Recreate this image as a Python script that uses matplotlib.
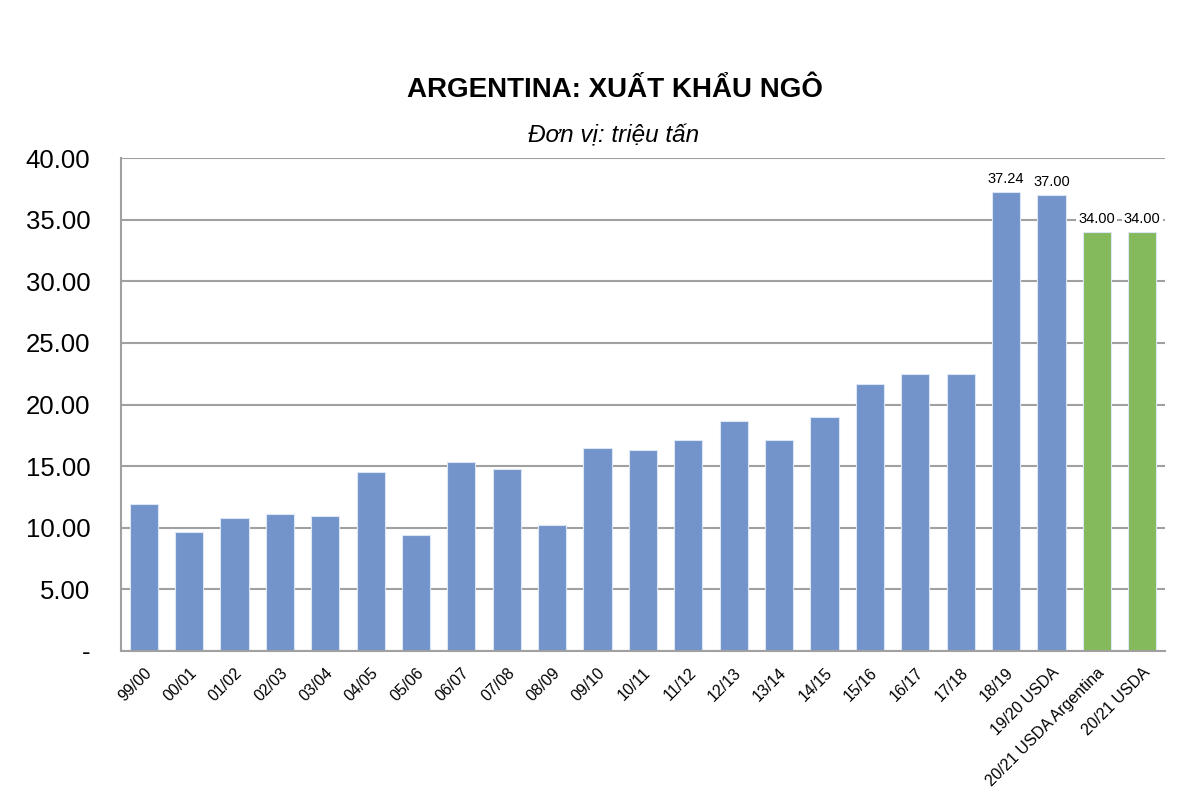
import matplotlib
matplotlib.use('Agg')
import matplotlib.pyplot as plt
import numpy as np
from matplotlib import rcParams

rcParams['font.family'] = ['Liberation Sans', 'DejaVu Sans']

# season labels and exports (million tonnes)
seasons = ['99/00', '00/01', '01/02', '02/03', '03/04', '04/05', '05/06', '06/07',
           '07/08', '08/09', '09/10', '10/11', '11/12', '12/13', '13/14', '14/15',
           '15/16', '16/17', '17/18', '18/19', '19/20 USDA',
           '20/21 USDA Argentina', '20/21 USDA']
exports = [11.91, 9.66, 10.83, 11.15, 10.93, 14.56, 9.45, 15.32,
           14.75, 10.26, 16.45, 16.32, 17.16, 18.67, 17.08, 18.95,
           21.65, 22.46, 22.46, 37.24, 37.00, 34.00, 34.00]
labelled = [19, 20, 21, 22]   # bars that carry a value label
forecast = [21, 22]           # green bars

blue = '#7394CB'
green = '#84BA5B'
colors = [green if i in forecast else blue for i in range(len(seasons))]

fig = plt.figure(figsize=(12, 8), dpi=100)
ax = fig.add_axes([0.1008, 0.18625, 0.87, 0.61625])

x = np.arange(len(seasons))
ax.bar(x, exports, width=0.62, color=colors, edgecolor='#DCE6F4', linewidth=0.8, zorder=2)

for i in labelled:
    ax.text(x[i], exports[i] + 0.5, '%.2f' % exports[i], ha='center', va='bottom',
            fontsize=10.5, zorder=3,
            bbox=dict(facecolor='white', edgecolor='none', pad=1.5))

ax.set_xlim(-0.5, len(seasons) - 0.5)
ax.set_ylim(0, 40)
yt = np.arange(0, 45, 5)
ax.set_yticks(yt)
ax.set_yticklabels(['-'] + ['%.2f' % v for v in yt[1:]], fontsize=18.5)
ax.set_xticks(x)
ax.set_xticklabels(seasons, rotation=45, ha='right', rotation_mode='anchor', fontsize=11.5)
ax.tick_params(axis='y', length=0, pad=22)
ax.tick_params(axis='x', length=0, pad=10)

ax.grid(axis='y', color='#A0A0A0', linewidth=1.5, zorder=0)
ax.set_axisbelow(True)
for side in ['top', 'right']:
    ax.spines[side].set_visible(False)
for side in ['left', 'bottom']:
    ax.spines[side].set_color('#A0A0A0')
    ax.spines[side].set_linewidth(1.5)

fig.text(0.5125, 0.888, 'ARGENTINA: XUẤT KHẨU NGÔ', ha='center', va='center',
         fontsize=20, fontweight='bold')
fig.text(0.5117, 0.83, 'Đơn vị: triệu tấn', ha='center', va='center',
         fontsize=17.5, style='italic')

plt.savefig('out.png', dpi=100)
